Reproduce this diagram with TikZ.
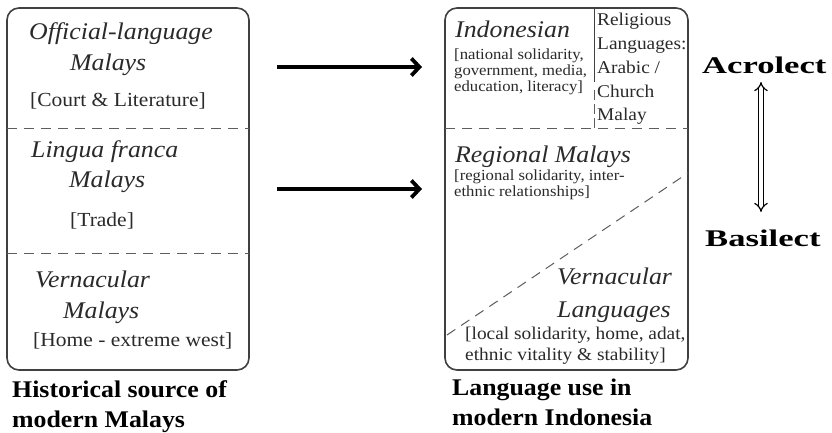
\documentclass[tikz,border=0pt]{standalone}
\usepackage{fontspec}
\setmainfont{Liberation Serif}[FakeStretch=1.08]
\usepackage{graphicx}
\usetikzlibrary{arrows.meta}
\definecolor{ink}{HTML}{2A2A2A}
\definecolor{frame}{HTML}{404040}
\begin{document}
\begin{tikzpicture}[x=1bp,y=-1bp,
  panel/.style={draw=frame, line width=1.6bp, rounded corners=12bp},
  sepline/.style={draw=frame!85, line width=1bp, dash pattern=on 10bp off 7bp},
  lbl/.style={inner sep=0pt, anchor=base west, text=ink},
  head/.style={lbl, font=\fontsize{24}{28}\selectfont\itshape},
  note/.style={lbl, font=\fontsize{20}{24}\selectfont},
  small/.style={lbl, font=\fontsize{15.5}{16}\selectfont},
  mid/.style={lbl, font=\fontsize{18}{20}\selectfont},
  captxt/.style={lbl, text=black, font=\fontsize{24}{28}\selectfont\bfseries},
  flow/.style={line width=3.8bp, -{Straight Barb[length=8bp,width=17bp]}},
  scalearrow/.style={draw=black, line width=1.2bp, double=white, double distance=3.5bp,
    {Implies[length=7bp,width=15bp]}-{Implies[length=7bp,width=15bp]}},
]
\useasboundingbox[fill=white] (0,0) rectangle (832,432);

% panels
\draw[panel] (7,8) rectangle (249,370);
\draw[panel] (445,8) rectangle (688,370);

% left separators
\coordinate (l1a) at (7,128);  \coordinate (l1b) at (249,128);
\coordinate (l2a) at (7,253);  \coordinate (l2b) at (249,253);
\draw[sepline] (l1a) -- (l1b);
\draw[sepline] (l2a) -- (l2b);

% right separators
\coordinate (r1a) at (445,128); \coordinate (r1b) at (688,128);
\coordinate (v1) at (594,8);    \coordinate (v2) at (594,82);
\coordinate (v3) at (594,90);   \coordinate (v4) at (594,128);
\coordinate (d1) at (447,335);  \coordinate (d2) at (688,173);
\draw[sepline] (r1a) -- (r1b);
\draw[draw=frame, line width=1bp] (v1) -- (v2);
\draw[sepline, dash pattern=on 10bp off 4bp] (v3) -- (v4);
\draw[sepline] (d1) -- (d2);

% left box texts
\node[head] (offa) at (29,39) {Official-language};
\node[head] (offb) at (70,70) {Malays};
\node[note] (offc) at (30,106) {[Court \& Literature]};
\node[head] (linga) at (31,157) {Lingua franca};
\node[head] (lingb) at (69,187) {Malays};
\node[note] (lingc) at (70,226) {[Trade]};
\node[head] (verna) at (35,287) {Vernacular};
\node[head] (vernb) at (63,318) {Malays};
\node[note] (vernc) at (33,346) {[Home - extreme west]};

% right box texts
\node[head] (indo) at (455,37) {Indonesian};
\node[small] (indo1) at (454,59) {[national solidarity,};
\node[small] (indo2) at (454,75) {government, media,};
\node[small] (indo3) at (454,91) {education, literacy]};
\node[mid] (rel1) at (597,25) {Religious};
\node[mid] (rel2) at (597,49) {Languages:};
\node[mid] (rel3) at (597,73) {Arabic /};
\node[mid] (rel4) at (597,97) {Church};
\node[mid] (rel5) at (597,120) {Malay};
\node[head] (reg) at (455,162) {Regional Malays};
\node[small] (reg1) at (454,180) {[regional solidarity, inter-};
\node[small] (reg2) at (454,196) {ethnic relationships]};
\node[head] (vla) at (557,284) {Vernacular};
\node[head] (vlb) at (557,317) {Languages};
\node[mid] (vl1) at (465,339) {[local solidarity, home, adat,};
\node[mid] (vl2) at (465,360) {ethnic vitality \& stability]};

% captions
\node[captxt] (capla) at (12,397) {Historical source of};
\node[captxt] (caplb) at (12,427) {modern Malays};
\node[captxt] (capra) at (452,395) {Language use in};
\node[captxt] (caprb) at (452,425) {modern Indonesia};

% scale
\node[captxt] (acro) at (702,73) {\scalebox{1.34}[1]{Acrolect}};
\node[captxt] (basi) at (705,246) {\scalebox{1.34}[1]{Basilect}};
\coordinate (sup) at (761,82);
\coordinate (sdn) at (761,212);
\draw[scalearrow] (sup) -- (sdn);

% flow arrows
\coordinate (f1s) at (277,67);  \coordinate (f1e) at (422,67);
\coordinate (f2s) at (277,189); \coordinate (f2e) at (422,189);
\draw[flow] (f1s) -- (f1e);
\draw[flow] (f2s) -- (f2e);
\end{tikzpicture}
\end{document}
